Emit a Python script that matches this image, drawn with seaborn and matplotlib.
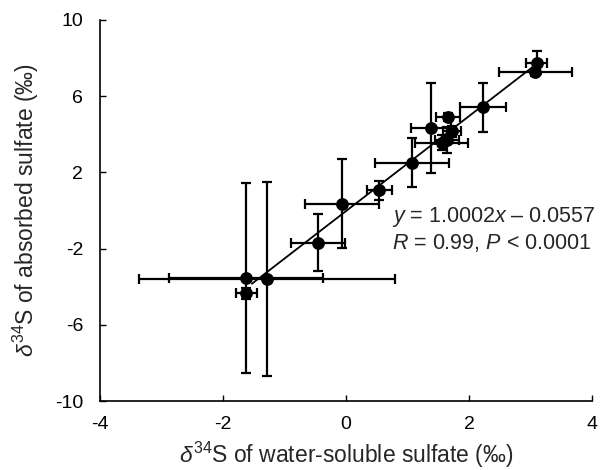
import numpy as np
import pandas as pd
import matplotlib
matplotlib.use("Agg")
import matplotlib.pyplot as plt
import seaborn as sns

# Data
x_vals = [-1.63, -1.28, -1.62, -0.45, -0.07, 0.54, 1.07, 1.38, 1.66, 1.72, 1.56, 1.64, 2.23, 3.08, 3.10]
y_vals = [-3.55, -3.60, -4.35, -1.68, 0.36, 1.05, 2.50, 4.32, 4.90, 4.15, 3.55, 3.70, 5.42, 7.25, 7.75]
x_err = [1.25, 2.08, 0.17, 0.44, 0.60, 0.20, 0.60, 0.32, 0.20, 0.15, 0.43, 0.20, 0.37, 0.59, 0.17]
y_err = [5.00, 5.10, 0.30, 1.48, 2.33, 0.50, 1.28, 2.37, 0.20, 0.30, 0.40, 0.70, 1.28, 0.20, 0.60]

x_ticks = [-4, -2, 0, 2, 4]
y_ticks = [-10, -6, -2, 2, 6, 10]
eq_text = r"$y$ = 1.0002$x$ – 0.0557"
stat_text = r"$R$ = 0.99, $P$ < 0.0001"
x_label = r"$\delta^{34}$S of water-soluble sulfate (‰)"
y_label = r"$\delta^{34}$S of absorbed sulfate (‰)"

sns.set_theme(style="white")
plt.rcParams["font.family"] = ["Liberation Sans", "DejaVu Sans"]
plt.rcParams["mathtext.fontset"] = "custom"
plt.rcParams["mathtext.rm"] = "Liberation Sans"
plt.rcParams["mathtext.it"] = "Liberation Sans:italic"
plt.rcParams["mathtext.bf"] = "Liberation Sans:bold"
plt.rcParams["axes.unicode_minus"] = False

df = pd.DataFrame({"x": x_vals, "y": y_vals, "xerr": x_err, "yerr": y_err})

fig = plt.figure(figsize=(6.01, 4.70), dpi=100)
ax = fig.add_axes([100 / 601, 1 - 401 / 470, 492 / 601, 381 / 470])

ax.errorbar(df["x"], df["y"], xerr=df["xerr"], yerr=df["yerr"], fmt="none",
            ecolor="black", elinewidth=1.6, capsize=3.5, capthick=1.6, zorder=2)

# fitted line from the data
coef = np.polyfit(df["x"], df["y"], 1)
xs = np.array([df["x"].min() + 0.1, df["x"].max()])
fit_df = pd.DataFrame({"x": xs, "y": np.polyval(coef, xs)})
sns.lineplot(data=fit_df, x="x", y="y", ax=ax, color="black", linewidth=1.3, zorder=3)

sns.scatterplot(data=df, x="x", y="y", ax=ax, color="black", s=85,
                edgecolor="black", linewidth=0, zorder=4)

ax.set_xlim(-4, 4)
ax.set_ylim(-10, 10)
ax.set_xticks(x_ticks)
ax.set_yticks(y_ticks)
ax.tick_params(axis="both", direction="in", length=4, width=1, labelsize=14,
               colors="black", left=True, bottom=True)
ax.tick_params(axis="y", pad=12)
ax.tick_params(axis="x", pad=11)
for s in ["top", "right"]:
    ax.spines[s].set_visible(False)
for s in ["left", "bottom"]:
    ax.spines[s].set_color("black")
    ax.spines[s].set_linewidth(1.2)

ax.set_xlabel(x_label, fontsize=16.5, labelpad=5)
ax.set_ylabel(y_label, fontsize=16.5, labelpad=10)

ax.text(0.75, -0.34, eq_text, fontsize=15.5, va="center", ha="left", clip_on=False)
ax.text(0.75, -1.72, stat_text, fontsize=15.5, va="center", ha="left", clip_on=False)

fig.savefig("out.png", dpi=100)
